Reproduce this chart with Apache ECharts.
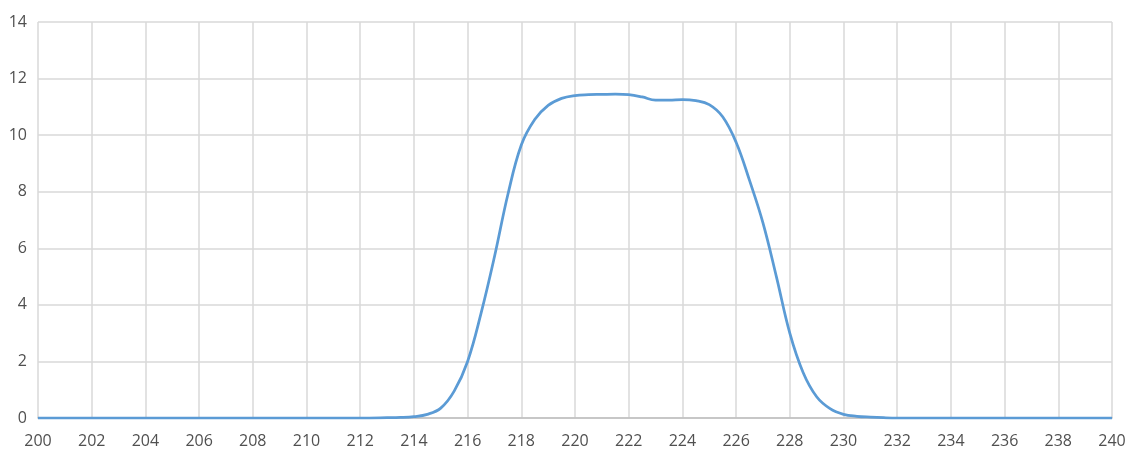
<!DOCTYPE html>
<html><head><meta charset="utf-8">
<script src="https://cdn.jsdelivr.net/npm/echarts@6/dist/echarts.min.js"></script>
<style>html,body{margin:0;padding:0;background:#fff}#c{width:1132px;height:452px}</style>
</head><body><div id="c"></div>
<script>
const xValues = [200,201,202,203,204,205,206,207,208,209,210,211,212,213,213.5,214,214.5,215,215.5,216,216.5,217,217.5,218,218.5,219,219.5,220,220.5,221,221.5,222,222.5,223,223.5,224,224.5,225,225.5,226,226.5,227,227.5,228,228.5,229,229.5,230,230.5,231,231.5,232,233,234,235,236,237,238,239,240];
const yValues = [0,0,0,0,0,0,0,0,0,0,0,0,0,0.01,0.02,0.05,0.13,0.35,0.95,2.0,3.7,5.7,7.9,9.65,10.55,11.05,11.3,11.4,11.43,11.44,11.45,11.43,11.35,11.24,11.24,11.26,11.22,11.08,10.65,9.75,8.4,6.9,5.0,3.0,1.6,0.75,0.33,0.13,0.06,0.03,0.01,0,0,0,0,0,0,0,0,0];
const xTicks = {min:200, max:240, interval:2};
const yTicks = {min:0, max:14, interval:2};
const chart = echarts.init(document.getElementById('c'));
const data = xValues.map((x,i)=>[x,yValues[i]]);
chart.setOption({
  animation:false,
  grid:{left:38,right:20,top:22,bottom:34,containLabel:false},
  xAxis:{type:'value',min:xTicks.min,max:xTicks.max,interval:xTicks.interval,
    axisLine:{show:true,lineStyle:{color:'#bfbfbf',width:1.5}},axisTick:{show:false},
    axisLabel:{color:'#505050',fontSize:16,fontFamily:'Open Sans, Liberation Sans, sans-serif',margin:15,showMinLabel:true,showMaxLabel:true},
    splitLine:{show:true,lineStyle:{color:'#d9d9d9',width:1.5}}},
  yAxis:{type:'value',min:yTicks.min,max:yTicks.max,interval:yTicks.interval,
    axisLine:{show:false},axisTick:{show:false},
    axisLabel:{color:'#505050',fontSize:16,fontFamily:'Open Sans, Liberation Sans, sans-serif',margin:11},
    splitLine:{show:true,lineStyle:{color:'#d9d9d9',width:1.5}}},
  series:[{type:'line',data:data,smooth:0.4,showSymbol:false,symbol:'none',
    lineStyle:{color:'#5B9BD5',width:2.75},z:3}]
});
</script></body></html>
